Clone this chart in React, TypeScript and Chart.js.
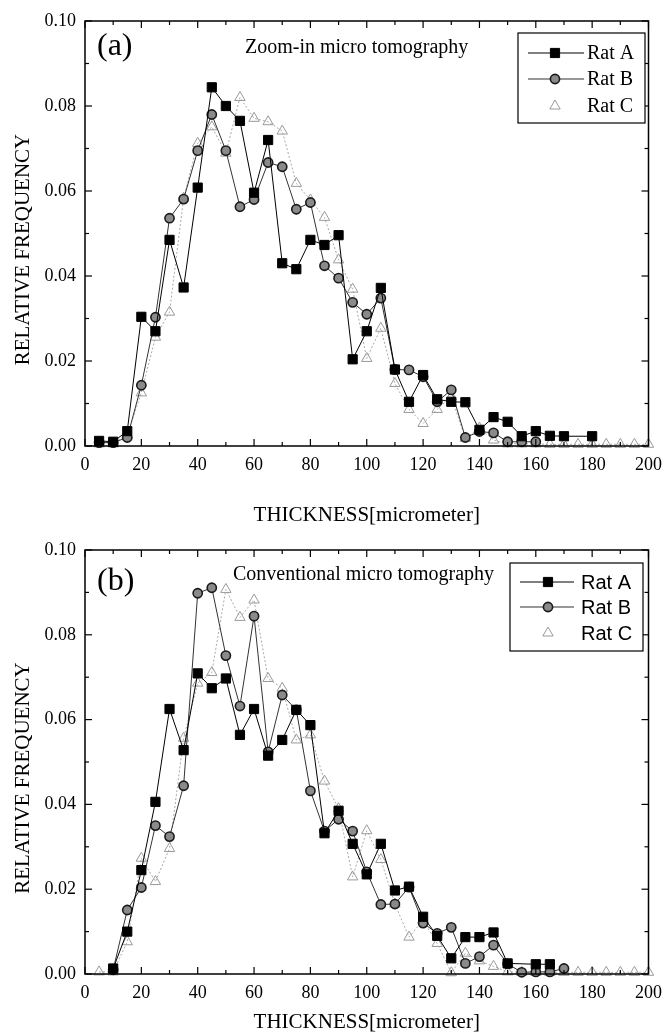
import React, { useEffect, useRef } from "react";
import { Chart, registerables } from "chart.js";
import { drawPoint } from "chart.js/helpers";

Chart.register(...registerables);

// ---------- data ----------
const thickness = [5, 10, 15, 20, 25, 30, 35, 40, 45, 50, 55, 60, 65, 70, 75, 80, 85, 90, 95, 100,
  105, 110, 115, 120, 125, 130, 135, 140, 145, 150, 155, 160, 165, 170, 175, 180, 185, 190, 195, 200];

const xTickValues = [0, 20, 40, 60, 80, 100, 120, 140, 160, 180, 200];
const yTickValues = [0, 0.02, 0.04, 0.06, 0.08, 0.1];

const seriesNames = ["Rat A", "Rat B", "Rat C"];

// Panel (a): Zoom-in micro tomography
const ratA_a = [0.0012, 0.0010, 0.0035, 0.0304, 0.0270, 0.0485, 0.0373, 0.0608, 0.0844, 0.0800,
  0.0765, 0.0596, 0.0720, 0.0430, 0.0416, 0.0485, 0.0473, 0.0496, 0.0204, 0.0270,
  0.0372, 0.0180, 0.0104, 0.0167, 0.0110, 0.0104, 0.0103, 0.0038, 0.0068, 0.0057,
  0.0023, 0.0035, 0.0024, 0.0023, null, 0.0023, null, null, null, null];
const ratB_a = [0.0008, 0.0008, 0.0020, 0.0143, 0.0303, 0.0536, 0.0581, 0.0695, 0.0780, 0.0695,
  0.0563, 0.0580, 0.0667, 0.0657, 0.0557, 0.0573, 0.0424, 0.0395, 0.0338, 0.0310,
  0.0348, 0.0180, 0.0179, 0.0163, 0.0104, 0.0132, 0.0020, 0.0034, 0.0031, 0.0010,
  0.0010, 0.0010, null, null, null, null, null, null, null, null];
const ratC_a = [0.0005, 0.0005, 0.0026, 0.0125, 0.0256, 0.0315, 0.0583, 0.0712, 0.0751, 0.0689,
  0.0820, 0.0771, 0.0763, 0.0741, 0.0618, 0.0579, 0.0538, 0.0438, 0.0369, 0.0206,
  0.0277, 0.0147, 0.0086, 0.0053, 0.0086, 0.0116, 0.0018, 0.0042, 0.0014, 0.0005,
  0.0005, 0.0005, 0.0004, 0.0004, 0.0004, 0.0004, 0.0004, 0.0004, 0.0004, 0.0004];

// Panel (b): Conventional micro tomography
const ratA_b = [null, 0.0013, 0.0100, 0.0245, 0.0406, 0.0625, 0.0528, 0.0709, 0.0674, 0.0697,
  0.0564, 0.0625, 0.0515, 0.0552, 0.0623, 0.0587, 0.0332, 0.0385, 0.0307, 0.0235,
  0.0307, 0.0197, 0.0206, 0.0135, 0.0090, 0.0037, 0.0087, 0.0087, 0.0098, 0.0025,
  null, 0.0023, 0.0023, null, null, null, null, null, null, null];
const ratB_b = [null, 0.0010, 0.0151, 0.0204, 0.0350, 0.0324, 0.0444, 0.0898, 0.0911, 0.0751,
  0.0632, 0.0844, 0.0524, 0.0658, 0.0623, 0.0432, 0.0337, 0.0365, 0.0337, 0.0241,
  0.0164, 0.0165, 0.0205, 0.0120, 0.0096, 0.0110, 0.0025, 0.0041, 0.0068, 0.0024,
  0.0004, 0.0005, 0.0005, 0.0013, null, null, null, null, null, null];
const ratC_b = [0.0005, 0.0005, 0.0076, 0.0273, 0.0218, 0.0296, 0.0556, 0.0686, 0.0711, 0.0907,
  0.0841, 0.0882, 0.0697, 0.0674, 0.0552, 0.0564, 0.0455, 0.0390, 0.0229, 0.0338,
  0.0270, 0.0165, 0.0087, 0.0127, 0.0072, 0.0003, 0.0049, 0.0031, 0.0018, 0.0005,
  0.0004, 0.0004, 0.0004, 0.0004, 0.0004, 0.0004, 0.0004, 0.0004, 0.0004, 0.0004];

// ---------- styles ----------
const SERIF = "'Liberation Serif', 'Times New Roman', serif";
const SANS = "'Liberation Sans', Arial, sans-serif";

const seriesStyles = [
  { borderColor: "#000", borderWidth: 1, borderDash: [], pointStyle: "rect", pointRadius: 6.5,
    pointBackgroundColor: "#000", pointBorderColor: "#000", pointBorderWidth: 1, legendLine: true },
  { borderColor: "#333", borderWidth: 1, borderDash: [], pointStyle: "circle", pointRadius: 4.6,
    pointBackgroundColor: "#8a8a8a", pointBorderColor: "#1a1a1a", pointBorderWidth: 1.6, legendLine: true },
  { borderColor: "#a8a8a8", borderWidth: 1, borderDash: [2, 2], pointStyle: "triangle", pointRadius: 6,
    pointBackgroundColor: "rgba(255,255,255,0)", pointBorderColor: "#9a9a9a", pointBorderWidth: 1, legendLine: false },
];

type PanelCfg = {
  label: string;
  subtitle: string;
  series: (number | null)[][];
  top: number;
  height: number;
  padTop: number;
  padRight: number;
  xAxisHeight: number;
  xTitlePadBottom: number;
  labelY: number;
  subtitleX: number;
  subtitleY: number;
  legend: { x: number; y: number; w: number; h: number; font: string; lineX0: number; lineX1: number; markerX: number; textX: number; rows: number[] };
  yTitleShift: number;
};

function decorPlugin(cfg: PanelCfg) {
  return {
    id: "decor" + cfg.label,
    afterDraw(chart: any) {
      const { ctx, chartArea: ca, scales } = chart;
      const xs = scales.x;
      const ys = scales.y;
      ctx.save();
      const seg = (x0: number, y0: number, x1: number, y1: number) => {
        ctx.beginPath();
        ctx.moveTo(x0, y0);
        ctx.lineTo(x1, y1);
        ctx.stroke();
      };
      // frame
      ctx.strokeStyle = "#000";
      ctx.lineWidth = 1.5;
      ctx.setLineDash([]);
      ctx.strokeRect(ca.left, ca.top, ca.right - ca.left, ca.bottom - ca.top);
      // inward ticks
      ctx.lineWidth = 1.2;
      for (let v = 0; v <= 200; v += 10) {
        const px = xs.getPixelForValue(v);
        const len = v % 20 === 0 ? 7 : 4;
        seg(px, ca.bottom, px, ca.bottom - len);
        seg(px, ca.top, px, ca.top + len);
      }
      for (let i = 0; i <= 10; i++) {
        const py = ys.getPixelForValue(i / 100);
        const len = i % 2 === 0 ? 7 : 4;
        seg(ca.left, py, ca.left + len, py);
        seg(ca.right, py, ca.right - len, py);
      }
      // y title
      ctx.fillStyle = "#000";
      ctx.save();
      ctx.translate(23, (ca.top + ca.bottom) / 2 + cfg.yTitleShift);
      ctx.rotate(-Math.PI / 2);
      ctx.font = `21px ${SERIF}`;
      ctx.textAlign = "center";
      ctx.textBaseline = "middle";
      ctx.fillText("RELATIVE FREQUENCY", 0, 0);
      ctx.restore();
      // panel label
      ctx.font = `32px ${SERIF}`;
      ctx.textAlign = "left";
      ctx.textBaseline = "middle";
      ctx.fillText(cfg.label, 97, cfg.labelY);
      // subtitle
      ctx.font = `20px ${SERIF}`;
      ctx.fillText(cfg.subtitle, cfg.subtitleX, cfg.subtitleY);
      // legend
      const lg = cfg.legend;
      ctx.fillStyle = "#fff";
      ctx.fillRect(lg.x, lg.y, lg.w, lg.h);
      ctx.strokeStyle = "#000";
      ctx.lineWidth = 1.2;
      ctx.strokeRect(lg.x, lg.y, lg.w, lg.h);
      chart.data.datasets.forEach((ds: any, i: number) => {
        const st = seriesStyles[i];
        const ry = lg.rows[i];
        if (st.legendLine) {
          ctx.strokeStyle = ds.borderColor;
          ctx.lineWidth = ds.borderWidth;
          ctx.setLineDash(ds.borderDash || []);
          seg(lg.lineX0, ry, lg.lineX1, ry);
          ctx.setLineDash([]);
        }
        ctx.fillStyle = ds.pointBackgroundColor;
        ctx.strokeStyle = ds.pointBorderColor;
        ctx.lineWidth = ds.pointBorderWidth;
        drawPoint(ctx, { pointStyle: ds.pointStyle, radius: ds.pointRadius, rotation: 0, borderWidth: ds.pointBorderWidth }, lg.markerX, ry);
        ctx.fillStyle = "#000";
        ctx.font = lg.font;
        ctx.textAlign = "left";
        ctx.textBaseline = "middle";
        ctx.fillText(ds.label, lg.textX, ry + 1);
      });
      ctx.restore();
    },
  };
}

function Panel({ cfg }: { cfg: PanelCfg }) {
  const ref = useRef<HTMLCanvasElement | null>(null);
  useEffect(() => {
    if (!ref.current) return;
    const datasets = cfg.series.map((vals, i) => {
      const st = seriesStyles[i];
      return {
        label: seriesNames[i],
        data: thickness.map((t, j) => ({ x: t, y: vals[j] })),
        borderColor: st.borderColor,
        borderWidth: st.borderWidth,
        borderDash: st.borderDash,
        pointStyle: st.pointStyle,
        pointRadius: st.pointRadius,
        pointBackgroundColor: st.pointBackgroundColor,
        pointBorderColor: st.pointBorderColor,
        pointBorderWidth: st.pointBorderWidth,
        tension: 0,
        fill: false,
        spanGaps: true,
        clip: false,
      };
    });
    const chart = new Chart(ref.current, {
      type: "line",
      data: { datasets },
      options: {
        animation: false,
        responsive: false,
        devicePixelRatio: 1,
        layout: { padding: { top: cfg.padTop, right: cfg.padRight, left: 0, bottom: 0 } },
        plugins: { legend: { display: false }, tooltip: { enabled: false }, title: { display: false } },
        scales: {
          x: {
            type: "linear",
            min: 0,
            max: 200,
            afterBuildTicks: (s: any) => { s.ticks = xTickValues.map((v) => ({ value: v })); },
            afterFit: (s: any) => { s.height = cfg.xAxisHeight; },
            grid: { display: false, drawTicks: false },
            border: { display: false },
            ticks: { color: "#000", font: { family: SERIF, size: 18 }, padding: 8, autoSkip: false, maxRotation: 0,
              callback: (v: any) => String(v) },
            title: { display: true, text: "THICKNESS[micrometer]", color: "#000",
              font: { family: SERIF, size: 21 }, padding: { top: 0, bottom: cfg.xTitlePadBottom } },
          },
          y: {
            type: "linear",
            min: 0,
            max: 0.1,
            afterBuildTicks: (s: any) => { s.ticks = yTickValues.map((v) => ({ value: v })); },
            afterFit: (s: any) => { s.width = 85; },
            grid: { display: false, drawTicks: false },
            border: { display: false },
            ticks: { color: "#000", font: { family: SERIF, size: 18 }, padding: 9, autoSkip: false,
              callback: (v: any) => Number(v).toFixed(2) },
          },
        },
      },
      plugins: [decorPlugin(cfg)],
    } as any);
    return () => chart.destroy();
  }, [cfg]);
  return (
    <canvas ref={ref} width={670} height={cfg.height}
      style={{ display: "block", position: "absolute", left: 0, top: cfg.top, width: 670, height: cfg.height }} />
  );
}

const panelA: PanelCfg = {
  label: "(a)",
  subtitle: "Zoom-in micro tomography",
  series: [ratA_a, ratB_a, ratC_a],
  top: 0,
  height: 528,
  padTop: 21,
  padRight: 13,
  xAxisHeight: 82,
  xTitlePadBottom: 0,
  labelY: 47,
  subtitleX: 245,
  subtitleY: 48,
  legend: { x: 518, y: 33, w: 127, h: 90, font: `20px ${SERIF}`, lineX0: 528, lineX1: 584, markerX: 555, textX: 587, rows: [53, 79, 106] },
  yTitleShift: 16,
};

const panelB: PanelCfg = {
  label: "(b)",
  subtitle: "Conventional micro tomography",
  series: [ratA_b, ratB_b, ratC_b],
  top: 516,
  height: 519,
  padTop: 34,
  padRight: 15,
  xAxisHeight: 61,
  xTitlePadBottom: 0,
  labelY: 66,
  subtitleX: 233,
  subtitleY: 59,
  legend: { x: 510, y: 47, w: 133, h: 88, font: `20px ${SANS}`, lineX0: 520, lineX1: 574, markerX: 548, textX: 581, rows: [66, 91, 117] },
  yTitleShift: 16,
};

export default function App() {
  return (
    <div style={{ position: "absolute", left: 0, top: 0, width: 670, height: 1032, background: "#fff", overflow: "hidden" }}>
      <Panel cfg={panelA} />
      <Panel cfg={panelB} />
    </div>
  );
}
